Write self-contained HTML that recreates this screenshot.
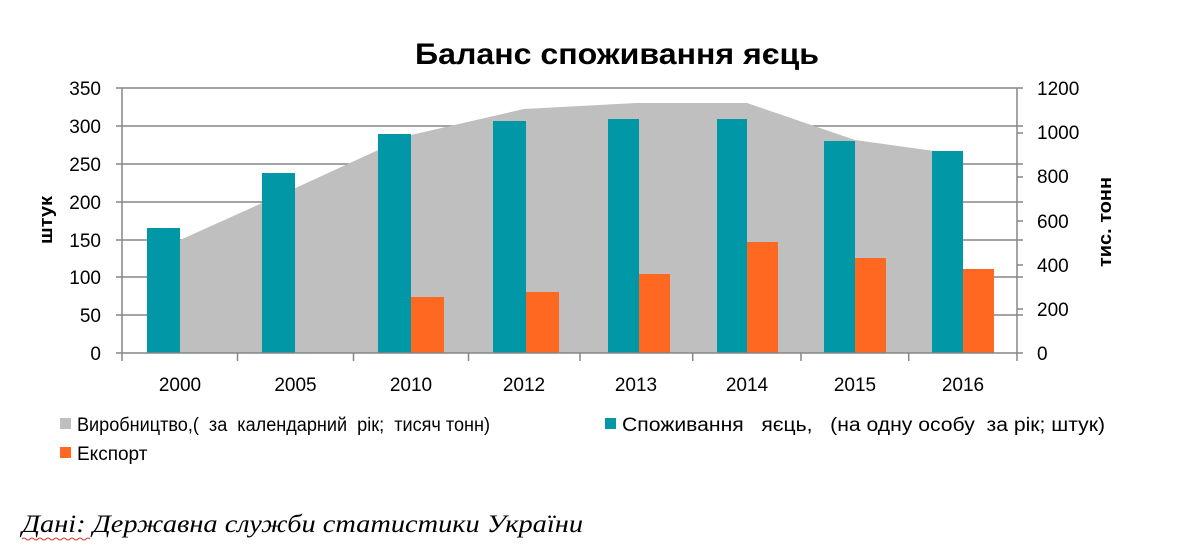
<!DOCTYPE html>
<html><head><meta charset="utf-8"><style>
html,body{margin:0;padding:0;background:#fff;}
svg{display:block;}
text{font-family:"Liberation Sans","DejaVu Sans",sans-serif;fill:#000;}
</style></head><body>
<svg width="1197" height="550" viewBox="0 0 1197 550" xmlns="http://www.w3.org/2000/svg">
<rect width="1197" height="550" fill="#fff"/>
<text x="617" y="64" font-size="30" font-weight="bold" text-anchor="middle" textLength="404" lengthAdjust="spacingAndGlyphs">Баланс споживання яєць</text>
<g stroke="#868686" stroke-width="1.5">
<line x1="116" y1="88" x2="1023" y2="88"/>
<line x1="116" y1="126" x2="1023" y2="126"/>
<line x1="116" y1="164" x2="1023" y2="164"/>
<line x1="116" y1="202" x2="1023" y2="202"/>
<line x1="116" y1="240" x2="1023" y2="240"/>
<line x1="116" y1="277" x2="1023" y2="277"/>
<line x1="116" y1="315" x2="1023" y2="315"/>
</g>
<polygon points="180,353 180,240 295.5,188 411,135 524,109 636,103 747,103 855,140 963,155 963,353" fill="#bfbfbf"/>
<g fill="#0097a7">
<rect x="147" y="228" width="33" height="125"/>
<rect x="262" y="173" width="33" height="180"/>
<rect x="378" y="134" width="33" height="219"/>
<rect x="493" y="121" width="33" height="232"/>
<rect x="608" y="119" width="31" height="234"/>
<rect x="717" y="119" width="30" height="234"/>
<rect x="824" y="141" width="31" height="212"/>
<rect x="932" y="151" width="31" height="202"/>
</g>
<g fill="#ff6820">
<rect x="411" y="297" width="33" height="56"/>
<rect x="526" y="292" width="33" height="61"/>
<rect x="639" y="274" width="31" height="79"/>
<rect x="747" y="242" width="31" height="111"/>
<rect x="855" y="258" width="31" height="95"/>
<rect x="963" y="269" width="31" height="84"/>
</g>
<g stroke="#868686" stroke-width="1.5">
<line x1="116" y1="353" x2="1023" y2="353"/>
<line x1="122" y1="88" x2="122" y2="361"/>
<line x1="1017" y1="88" x2="1017" y2="361"/>
<line x1="237.5" y1="353" x2="237.5" y2="361"/>
<line x1="353.5" y1="353" x2="353.5" y2="361"/>
<line x1="468.5" y1="353" x2="468.5" y2="361"/>
<line x1="580" y1="353" x2="580" y2="361"/>
<line x1="692.7" y1="353" x2="692.7" y2="361"/>
<line x1="801" y1="353" x2="801" y2="361"/>
<line x1="908.7" y1="353" x2="908.7" y2="361"/>
<line x1="1017" y1="133" x2="1023" y2="133"/>
<line x1="1017" y1="177" x2="1023" y2="177"/>
<line x1="1017" y1="221" x2="1023" y2="221"/>
<line x1="1017" y1="265" x2="1023" y2="265"/>
<line x1="1017" y1="309" x2="1023" y2="309"/>
</g>
<g font-size="19" text-anchor="end">
<text x="101" y="95">350</text><text x="101" y="133">300</text><text x="101" y="171">250</text>
<text x="101" y="209">200</text><text x="101" y="247">150</text><text x="101" y="284">100</text>
<text x="101" y="322">50</text><text x="101" y="360">0</text>
</g>
<g font-size="19" text-anchor="start">
<text x="1037" y="95">1200</text><text x="1037" y="139">1000</text><text x="1037" y="183">800</text>
<text x="1037" y="228">600</text><text x="1037" y="272">400</text><text x="1037" y="316">200</text>
<text x="1037" y="360">0</text>
</g>
<g font-size="19" text-anchor="middle">
<text x="180" y="391">2000</text><text x="295.5" y="391">2005</text><text x="411" y="391">2010</text>
<text x="524" y="391">2012</text><text x="636" y="391">2013</text><text x="747" y="391">2014</text>
<text x="855" y="391">2015</text><text x="963" y="391">2016</text>
</g>
<text transform="translate(52,220) rotate(-90)" font-size="18" font-weight="bold" text-anchor="middle" textLength="48" lengthAdjust="spacingAndGlyphs">штук</text>
<text transform="translate(1111,222) rotate(-90)" font-size="18" font-weight="bold" text-anchor="middle" textLength="90" lengthAdjust="spacingAndGlyphs">тис. тонн</text>
<rect x="60" y="418" width="11" height="11" fill="#bfbfbf"/>
<text x="77" y="431" font-size="19" textLength="413" lengthAdjust="spacingAndGlyphs" xml:space="preserve">Виробництво,(  за  календарний  рік;  тисяч тонн)</text>
<rect x="605" y="418" width="11" height="11" fill="#0097a7"/>
<text x="622" y="431" font-size="19" textLength="483" lengthAdjust="spacingAndGlyphs" xml:space="preserve">Споживання   яєць,   (на одну особу  за рік; штук)</text>
<rect x="60" y="447" width="11" height="11" fill="#ff6820"/>
<text x="77" y="460" font-size="19">Експорт</text>
<text x="22" y="532" font-size="25" font-style="italic" textLength="561" lengthAdjust="spacingAndGlyphs" style="font-family:'Liberation Serif',serif">Дані: Державна служби статистики України</text>
<path d="M22 539 q2 -2 4 0 t4 0 t4 0 t4 0 t4 0 t4 0 t4 0 t4 0 t4 0 t4 0 t4 0 t4 0 t4 0 t4 0 t4 0 t4 0 t4 0" stroke="#e03030" stroke-width="1" fill="none"/>
</svg>
</body></html>
